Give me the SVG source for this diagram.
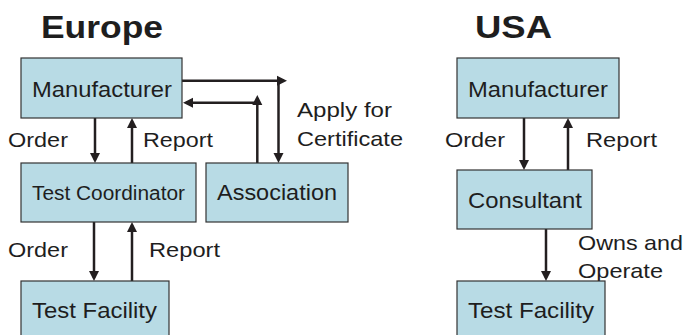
<svg xmlns="http://www.w3.org/2000/svg" width="685" height="335" viewBox="0 0 685 335">
<style>
.box{fill:#b8dbe5;stroke:#333;stroke-width:1.2}
.t{font-family:"Liberation Sans",Arial,sans-serif;font-size:21px;fill:#1e1e1e}
.big{font-size:22px}
.sm{font-size:20px}
.h{font-family:"Liberation Sans",Arial,sans-serif;font-size:32px;font-weight:bold;fill:#1e1e1e}
.c{fill:none;stroke:#231f20;stroke-width:2.5}
</style>
<defs>
<marker id="ah" viewBox="0 0 10 10" refX="7" refY="5" markerWidth="10" markerHeight="11" markerUnits="userSpaceOnUse" orient="auto">
<path d="M0,0 L10,5 L0,10 z" fill="#231f20"/>
</marker>
</defs>
<rect width="685" height="335" fill="#fff"/>
<text class="h" x="41" y="37.5" textLength="122" lengthAdjust="spacingAndGlyphs">Europe</text>
<text class="h" x="475" y="37.5" textLength="77" lengthAdjust="spacingAndGlyphs">USA</text>

<g id="connectors">
<path class="c" d="M95,118 V160" marker-end="url(#ah)"/>
<path class="c" d="M132,163 V121" marker-end="url(#ah)"/>
<path class="c" d="M182,80.7 H284" marker-end="url(#ah)"/>
<path class="c" d="M278.5,79.5 V160" marker-end="url(#ah)"/>
<path class="c" d="M257.3,163 V98" marker-end="url(#ah)"/>
<path class="c" d="M258.5,102.7 H186" marker-end="url(#ah)"/>
<path class="c" d="M94,222 V278" marker-end="url(#ah)"/>
<path class="c" d="M132,281 V225" marker-end="url(#ah)"/>
<path class="c" d="M524,118 V167" marker-end="url(#ah)"/>
<path class="c" d="M568,170 V121" marker-end="url(#ah)"/>
<path class="c" d="M546,229 V278" marker-end="url(#ah)"/>
</g>
<g id="labels">
<text class="t" x="8" y="147" textLength="60" lengthAdjust="spacingAndGlyphs">Order</text>
<text class="t" x="143" y="147" textLength="70" lengthAdjust="spacingAndGlyphs">Report</text>
<text class="t" x="297" y="117" textLength="95" lengthAdjust="spacingAndGlyphs">Apply for</text>
<text class="t" x="297" y="146" textLength="106" lengthAdjust="spacingAndGlyphs">Certificate</text>
<text class="t" x="8" y="257" textLength="60" lengthAdjust="spacingAndGlyphs">Order</text>
<text class="t" x="149" y="257" textLength="71" lengthAdjust="spacingAndGlyphs">Report</text>
<text class="t" x="445" y="147" textLength="60" lengthAdjust="spacingAndGlyphs">Order</text>
<text class="t" x="586" y="147" textLength="71" lengthAdjust="spacingAndGlyphs">Report</text>
<text class="t" x="578" y="250" textLength="105" lengthAdjust="spacingAndGlyphs">Owns and</text>
<text class="t" x="578" y="278" textLength="85" lengthAdjust="spacingAndGlyphs">Operate</text>
</g>

<g id="eu-manufacturer">
<rect class="box" x="21" y="58" width="161" height="60"/>
<text class="t big" x="32" y="97" textLength="140" lengthAdjust="spacingAndGlyphs">Manufacturer</text>
</g>
<g id="eu-test-coordinator">
<rect class="box" x="21" y="163" width="175" height="59"/>
<text class="t sm" x="32" y="199.5" textLength="153" lengthAdjust="spacingAndGlyphs">Test Coordinator</text>
</g>
<g id="eu-association">
<rect class="box" x="206" y="163" width="142" height="59"/>
<text class="t big" x="217" y="200" textLength="120" lengthAdjust="spacingAndGlyphs">Association</text>
</g>
<g id="eu-test-facility">
<rect class="box" x="21" y="281" width="148" height="60"/>
<text class="t big" x="32" y="318" textLength="125" lengthAdjust="spacingAndGlyphs">Test Facility</text>
</g>
<g id="us-manufacturer">
<rect class="box" x="457" y="58" width="162" height="60"/>
<text class="t big" x="468" y="97" textLength="140" lengthAdjust="spacingAndGlyphs">Manufacturer</text>
</g>
<g id="us-consultant">
<rect class="box" x="457" y="170" width="135" height="59"/>
<text class="t big" x="468" y="208" textLength="114" lengthAdjust="spacingAndGlyphs">Consultant</text>
</g>
<g id="us-test-facility">
<rect class="box" x="457" y="281" width="148" height="60"/>
<text class="t big" x="468" y="318" textLength="126" lengthAdjust="spacingAndGlyphs">Test Facility</text>
</g>
</svg>
